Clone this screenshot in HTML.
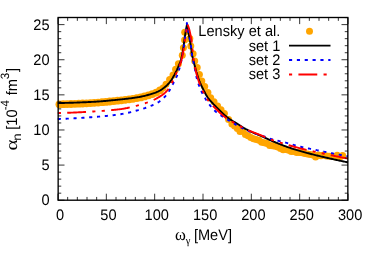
<!DOCTYPE html>
<html><head><meta charset="utf-8"><title>plot</title>
<style>
html,body{margin:0;padding:0;background:#fff;}
body{width:374px;height:262px;overflow:hidden;}
svg{display:block;}
text{font-family:"Liberation Sans",sans-serif;font-size:14.6px;fill:#000;text-rendering:geometricPrecision;}
.sym{font-family:"Liberation Serif",serif;}
</style></head><body>
<svg width="374" height="262" viewBox="0 0 374 262">
<rect width="374" height="262" fill="#fff"/>
<g fill="#ffa500"><circle cx="59.4" cy="104.3" r="3.9"/><circle cx="63.3" cy="104.2" r="3.9"/><circle cx="67.1" cy="104.1" r="3.9"/><circle cx="71.0" cy="104.0" r="3.9"/><circle cx="74.9" cy="103.8" r="3.9"/><circle cx="78.8" cy="103.7" r="3.9"/><circle cx="82.6" cy="103.5" r="3.9"/><circle cx="86.5" cy="103.3" r="3.9"/><circle cx="90.4" cy="103.1" r="3.9"/><circle cx="94.2" cy="102.8" r="3.9"/><circle cx="98.1" cy="102.6" r="3.9"/><circle cx="102.0" cy="102.2" r="3.9"/><circle cx="105.8" cy="101.9" r="3.9"/><circle cx="109.7" cy="101.5" r="3.9"/><circle cx="113.6" cy="101.1" r="3.9"/><circle cx="117.5" cy="100.7" r="3.9"/><circle cx="121.3" cy="100.3" r="3.9"/><circle cx="125.2" cy="99.8" r="3.9"/><circle cx="129.1" cy="99.3" r="3.9"/><circle cx="132.9" cy="98.8" r="3.9"/><circle cx="136.8" cy="98.1" r="3.9"/><circle cx="140.7" cy="97.4" r="3.9"/><circle cx="144.5" cy="96.4" r="3.9"/><circle cx="148.4" cy="95.3" r="3.9"/><circle cx="152.3" cy="94.1" r="3.9"/><circle cx="156.2" cy="92.6" r="3.9"/><circle cx="160.0" cy="90.4" r="3.9"/><circle cx="163.0" cy="88.0" r="3.5"/><circle cx="166.0" cy="84.2" r="3.5"/><circle cx="169.6" cy="79.6" r="3.5"/><circle cx="173.0" cy="75.0" r="3.5"/><circle cx="175.6" cy="69.3" r="3.5"/><circle cx="178.4" cy="63.7" r="3.5"/><circle cx="182.3" cy="55.3" r="3.5"/><circle cx="183.4" cy="47.8" r="3.5"/><circle cx="184.6" cy="40.0" r="3.5"/><circle cx="184.7" cy="32.3" r="3.5"/><circle cx="189.8" cy="38.4" r="3.5"/><circle cx="190.8" cy="45.9" r="3.5"/><circle cx="193.1" cy="53.8" r="3.5"/><circle cx="194.7" cy="60.9" r="3.5"/><circle cx="197.2" cy="67.5" r="3.5"/><circle cx="199.4" cy="74.5" r="3.5"/><circle cx="201.8" cy="81.0" r="3.5"/><circle cx="204.7" cy="86.4" r="3.5"/><circle cx="207.9" cy="92.4" r="3.5"/><circle cx="210.7" cy="97.7" r="3.5"/><circle cx="214.0" cy="101.8" r="3.5"/><circle cx="217.6" cy="106.0" r="3.5"/><circle cx="221.0" cy="109.7" r="3.5"/><circle cx="224.4" cy="113.6" r="3.5"/><circle cx="228.6" cy="119.6" r="3.5"/><circle cx="342.6" cy="155.6" r="3.5"/><circle cx="339.9" cy="157.1" r="3.5"/><circle cx="337.2" cy="155.2" r="3.5"/><circle cx="334.5" cy="156.7" r="3.5"/><circle cx="331.8" cy="156.2" r="3.5"/><circle cx="329.1" cy="156.2" r="3.5"/><circle cx="326.4" cy="156.1" r="3.5"/><circle cx="323.7" cy="155.0" r="3.5"/><circle cx="321.0" cy="155.7" r="3.5"/><circle cx="318.3" cy="155.1" r="3.5"/><circle cx="315.6" cy="157.0" r="3.5"/><circle cx="312.9" cy="155.1" r="3.5"/><circle cx="310.2" cy="154.5" r="3.5"/><circle cx="307.5" cy="154.1" r="3.5"/><circle cx="304.8" cy="153.4" r="3.5"/><circle cx="302.1" cy="152.7" r="3.5"/><circle cx="299.4" cy="152.5" r="3.5"/><circle cx="296.7" cy="152.4" r="3.5"/><circle cx="294.0" cy="151.4" r="3.5"/><circle cx="291.3" cy="151.4" r="3.5"/><circle cx="288.6" cy="150.2" r="3.5"/><circle cx="285.9" cy="149.6" r="3.5"/><circle cx="283.2" cy="149.7" r="3.5"/><circle cx="280.5" cy="148.4" r="3.5"/><circle cx="277.8" cy="147.1" r="3.5"/><circle cx="275.1" cy="146.3" r="3.5"/><circle cx="272.4" cy="145.8" r="3.5"/><circle cx="269.7" cy="145.6" r="3.5"/><circle cx="267.0" cy="143.6" r="3.5"/><circle cx="264.3" cy="142.7" r="3.5"/><circle cx="261.6" cy="142.3" r="3.5"/><circle cx="258.9" cy="140.3" r="3.5"/><circle cx="256.2" cy="139.5" r="3.5"/><circle cx="253.5" cy="138.8" r="3.5"/><circle cx="250.8" cy="137.4" r="3.5"/><circle cx="248.1" cy="135.8" r="3.5"/><circle cx="245.4" cy="134.6" r="3.5"/><circle cx="242.7" cy="131.2" r="3.5"/><circle cx="240.0" cy="131.4" r="3.5"/><circle cx="237.3" cy="128.5" r="3.5"/><circle cx="234.6" cy="126.0" r="3.5"/><circle cx="231.9" cy="124.1" r="3.5"/><circle cx="309.5" cy="31.2" r="3.5"/></g>
<g fill="none" stroke-width="1.9" stroke-linejoin="round">
<path d="M57.80 103.00 L58.61 103.00 L59.42 102.99 L60.23 102.98 L61.04 102.97 L61.85 102.96 L62.65 102.95 L63.46 102.94 L64.27 102.93 L65.08 102.91 L65.89 102.89 L66.70 102.87 L67.51 102.86 L68.32 102.84 L69.12 102.81 L69.93 102.79 L70.74 102.77 L71.55 102.74 L72.36 102.72 L73.17 102.69 L73.97 102.66 L74.78 102.64 L75.59 102.61 L76.40 102.58 L77.21 102.55 L78.01 102.52 L78.82 102.48 L79.63 102.45 L80.44 102.42 L81.24 102.39 L82.05 102.35 L82.86 102.32 L83.67 102.28 L84.47 102.25 L85.28 102.21 L86.09 102.18 L86.90 102.14 L87.70 102.10 L88.51 102.07 L89.32 102.03 L90.12 101.99 L90.93 101.96 L91.74 101.92 L92.54 101.87 L93.35 101.83 L94.16 101.78 L94.96 101.73 L95.77 101.68 L96.58 101.63 L97.38 101.57 L98.19 101.51 L99.00 101.45 L99.80 101.39 L100.61 101.33 L101.42 101.27 L102.22 101.20 L103.03 101.13 L103.83 101.07 L104.64 101.00 L105.45 100.93 L106.25 100.85 L107.06 100.78 L107.86 100.71 L108.67 100.63 L109.47 100.55 L110.28 100.48 L111.08 100.40 L111.89 100.32 L112.69 100.24 L113.50 100.16 L114.30 100.08 L115.11 100.00 L115.91 99.92 L116.72 99.84 L117.52 99.75 L118.33 99.67 L119.13 99.59 L119.93 99.51 L120.74 99.42 L121.54 99.34 L122.35 99.26 L123.15 99.17 L123.96 99.08 L124.76 99.00 L125.57 98.91 L126.37 98.81 L127.17 98.72 L127.98 98.63 L128.78 98.53 L129.59 98.43 L130.39 98.33 L131.19 98.22 L131.99 98.12 L132.80 98.01 L133.60 97.90 L134.40 97.78 L135.20 97.66 L135.99 97.54 L136.79 97.42 L137.59 97.29 L138.38 97.15 L139.17 97.02 L139.97 96.87 L140.76 96.71 L141.55 96.55 L142.34 96.38 L143.13 96.19 L143.92 96.01 L144.70 95.81 L145.49 95.62 L146.27 95.41 L147.06 95.21 L147.84 95.00 L148.62 94.78 L149.40 94.57 L150.18 94.35 L150.95 94.13 L151.73 93.90 L152.51 93.66 L153.28 93.41 L154.04 93.15 L154.80 92.88 L155.55 92.59 L156.30 92.28 L157.05 91.96 L157.79 91.63 L158.52 91.28 L159.24 90.91 L159.95 90.53 L160.64 90.13 L161.33 89.70 L162.01 89.26 L162.68 88.79 L163.34 88.31 L163.99 87.82 L164.62 87.32 L165.23 86.81 L165.84 86.28 L166.44 85.73 L167.03 85.17 L167.61 84.60 L168.17 84.01 L168.72 83.41 L169.26 82.80 L169.77 82.18 L170.27 81.56 L170.74 80.91 L171.20 80.25 L171.65 79.57 L172.08 78.88 L172.51 78.19 L172.92 77.49 L173.33 76.79 L173.73 76.09 L174.12 75.38 L174.51 74.67 L174.88 73.95 L175.25 73.23 L175.61 72.51 L175.96 71.78 L176.32 71.05 L176.66 70.32 L177.01 69.59 L177.34 68.86 L177.68 68.12 L178.00 67.38 L178.33 66.64 L178.64 65.90 L178.97 65.15 L179.29 64.41 L179.61 63.66 L179.92 62.91 L180.21 62.16 L180.47 61.40 L180.71 60.63 L180.94 59.86 L181.15 59.08 L181.35 58.30 L181.54 57.51 L181.72 56.72 L181.90 55.93 L182.07 55.13 L182.23 54.34 L182.39 53.55 L182.54 52.76 L182.69 51.96 L182.83 51.16 L182.97 50.37 L183.10 49.57 L183.23 48.77 L183.35 47.97 L183.47 47.17 L183.59 46.37 L183.70 45.57 L183.80 44.77 L183.90 43.97 L184.00 43.16 L184.10 42.36 L184.20 41.56 L184.30 40.76 L184.41 39.96 L184.52 39.15 L184.63 38.35 L184.75 37.55 L184.86 36.75 L184.98 35.95 L185.10 35.15 L185.22 34.36 L185.35 33.56 L185.48 32.76 L185.61 31.96 L185.74 31.16 L185.87 30.37 L186.01 29.57 L186.15 28.77 L186.30 27.98 L186.45 27.18 L186.59 26.39 L186.75 25.59 L186.90 24.80 L187.07 25.69 L187.24 26.57 L187.41 27.46 L187.58 28.35 L187.75 29.23 L187.93 30.12 L188.10 31.01 L188.28 31.89 L188.46 32.78 L188.64 33.66 L188.82 34.55 L188.99 35.43 L189.16 36.32 L189.33 37.21 L189.49 38.09 L189.65 38.98 L189.80 39.87 L189.96 40.76 L190.11 41.65 L190.27 42.54 L190.42 43.43 L190.57 44.32 L190.72 45.21 L190.86 46.10 L191.00 47.00 L191.13 47.89 L191.25 48.79 L191.36 49.68 L191.47 50.58 L191.58 51.48 L191.70 52.37 L191.82 53.27 L191.96 54.16 L192.11 55.05 L192.28 55.93 L192.48 56.81 L192.69 57.69 L192.91 58.57 L193.13 59.44 L193.36 60.32 L193.57 61.20 L193.79 62.07 L194.01 62.95 L194.23 63.83 L194.45 64.70 L194.67 65.58 L194.90 66.45 L195.13 67.33 L195.36 68.20 L195.60 69.07 L195.84 69.94 L196.09 70.81 L196.34 71.67 L196.59 72.54 L196.85 73.41 L197.11 74.28 L197.38 75.14 L197.65 76.00 L197.92 76.86 L198.21 77.72 L198.50 78.57 L198.80 79.42 L199.11 80.27 L199.43 81.11 L199.77 81.94 L200.11 82.78 L200.47 83.61 L200.84 84.43 L201.21 85.26 L201.60 86.08 L201.99 86.89 L202.39 87.71 L202.79 88.52 L203.20 89.32 L203.61 90.13 L204.02 90.93 L204.44 91.73 L204.86 92.54 L205.28 93.34 L205.72 94.14 L206.16 94.93 L206.62 95.71 L207.09 96.48 L207.57 97.24 L208.07 97.98 L208.60 98.70 L209.15 99.41 L209.73 100.09 L210.33 100.77 L210.95 101.44 L211.58 102.10 L212.20 102.76 L212.83 103.41 L213.44 104.07 L214.07 104.72 L214.69 105.37 L215.33 106.02 L215.96 106.66 L216.60 107.30 L217.24 107.94 L217.88 108.58 L218.51 109.22 L219.15 109.86 L219.78 110.50 L220.42 111.15 L221.06 111.78 L221.71 112.41 L222.36 113.04 L223.02 113.65 L223.69 114.26 L224.36 114.86 L225.04 115.45 L225.73 116.04 L226.42 116.62 L227.12 117.20 L227.83 117.75 L228.55 118.30 L229.28 118.83 L230.02 119.34 L230.78 119.83 L231.55 120.31 L232.32 120.78 L233.09 121.25 L233.86 121.73 L234.63 122.19 L235.41 122.65 L236.19 123.11 L236.96 123.57 L237.74 124.04 L238.51 124.51 L239.27 125.00 L240.03 125.49 L240.79 125.98 L241.54 126.48 L242.30 126.97 L243.06 127.46 L243.83 127.94 L244.60 128.40 L245.38 128.86 L246.17 129.29 L246.96 129.71 L247.77 130.12 L248.57 130.52 L249.39 130.91 L250.21 131.29 L251.03 131.67 L251.85 132.04 L252.68 132.41 L253.51 132.78 L254.33 133.15 L255.16 133.50 L256.00 133.85 L256.83 134.19 L257.67 134.53 L258.51 134.87 L259.34 135.22 L260.17 135.57 L260.99 135.94 L261.82 136.31 L262.64 136.68 L263.46 137.06 L264.28 137.44 L265.10 137.82 L265.92 138.20 L266.74 138.58 L267.56 138.95 L268.38 139.32 L269.21 139.69 L270.03 140.06 L270.86 140.42 L271.68 140.79 L272.51 141.15 L273.34 141.51 L274.17 141.86 L275.01 142.20 L275.84 142.54 L276.68 142.88 L277.52 143.22 L278.36 143.55 L279.20 143.89 L280.04 144.22 L280.88 144.55 L281.72 144.88 L282.57 145.20 L283.41 145.52 L284.26 145.84 L285.10 146.16 L285.95 146.47 L286.80 146.78 L287.65 147.08 L288.50 147.38 L289.35 147.68 L290.21 147.97 L291.06 148.26 L291.92 148.54 L292.78 148.82 L293.63 149.09 L294.49 149.36 L295.36 149.63 L296.22 149.89 L297.08 150.15 L297.95 150.41 L298.82 150.66 L299.68 150.91 L300.55 151.16 L301.42 151.40 L302.29 151.65 L303.17 151.89 L304.04 152.13 L304.91 152.36 L305.78 152.60 L306.66 152.83 L307.53 153.06 L308.40 153.29 L309.28 153.52 L310.15 153.75 L311.02 153.98 L311.90 154.21 L312.77 154.43 L313.65 154.65 L314.52 154.87 L315.40 155.09 L316.28 155.30 L317.15 155.52 L318.03 155.73 L318.91 155.94 L319.79 156.15 L320.67 156.35 L321.55 156.56 L322.43 156.77 L323.31 156.97 L324.19 157.17 L325.07 157.38 L325.95 157.58 L326.83 157.78 L327.71 157.98 L328.59 158.18 L329.47 158.38 L330.35 158.58 L331.23 158.78 L332.11 158.98 L332.99 159.18 L333.87 159.37 L334.75 159.57 L335.63 159.77 L336.52 159.96 L337.40 160.15 L338.28 160.35 L339.16 160.54 L340.05 160.73 L340.93 160.92 L341.81 161.11 L342.70 161.29 L343.58 161.48 L344.46 161.67 L345.35 161.85 L346.23 162.04 L347.12 162.22 L348.00 162.40" stroke="#000"/>
<path d="M289 45.6 H330.5" stroke="#000"/>
<path d="M57.80 119.00 L58.66 118.97 L59.53 118.95 L60.39 118.92 L61.26 118.89 L62.12 118.86 L62.99 118.83 L63.85 118.79 L64.72 118.76 L65.58 118.72 L66.45 118.68 L67.31 118.65 L68.17 118.61 L69.04 118.56 L69.90 118.52 L70.77 118.48 L71.63 118.44 L72.49 118.39 L73.36 118.34 L74.22 118.30 L75.08 118.25 L75.95 118.20 L76.81 118.15 L77.67 118.10 L78.54 118.05 L79.40 118.00 L80.26 117.94 L81.12 117.89 L81.99 117.83 L82.85 117.78 L83.71 117.72 L84.57 117.67 L85.44 117.61 L86.30 117.55 L87.16 117.49 L88.02 117.44 L88.89 117.38 L89.75 117.32 L90.61 117.26 L91.47 117.20 L92.33 117.13 L93.20 117.07 L94.06 117.01 L94.92 116.94 L95.79 116.88 L96.65 116.81 L97.51 116.74 L98.38 116.67 L99.24 116.60 L100.10 116.52 L100.97 116.45 L101.83 116.37 L102.69 116.30 L103.56 116.22 L104.42 116.13 L105.28 116.05 L106.14 115.97 L107.01 115.88 L107.87 115.79 L108.73 115.70 L109.59 115.61 L110.45 115.51 L111.31 115.42 L112.17 115.32 L113.02 115.22 L113.88 115.11 L114.74 115.01 L115.59 114.90 L116.45 114.79 L117.30 114.67 L118.16 114.56 L119.01 114.44 L119.86 114.32 L120.71 114.19 L121.56 114.06 L122.41 113.92 L123.26 113.76 L124.11 113.60 L124.96 113.44 L125.81 113.26 L126.65 113.08 L127.50 112.89 L128.34 112.70 L129.19 112.50 L130.03 112.30 L130.87 112.09 L131.72 111.88 L132.56 111.66 L133.40 111.44 L134.23 111.22 L135.07 111.00 L135.91 110.77 L136.74 110.54 L137.57 110.31 L138.40 110.08 L139.23 109.85 L140.06 109.61 L140.89 109.37 L141.72 109.11 L142.55 108.85 L143.37 108.59 L144.19 108.31 L145.01 108.04 L145.83 107.75 L146.65 107.46 L147.46 107.17 L148.27 106.86 L149.08 106.56 L149.88 106.25 L150.69 105.93 L151.50 105.61 L152.31 105.28 L153.12 104.94 L153.92 104.59 L154.71 104.23 L155.49 103.85 L156.25 103.46 L156.99 103.04 L157.71 102.61 L158.42 102.15 L159.13 101.66 L159.83 101.15 L160.53 100.63 L161.21 100.08 L161.89 99.51 L162.55 98.93 L163.21 98.33 L163.84 97.72 L164.46 97.10 L165.07 96.47 L165.65 95.84 L166.22 95.19 L166.76 94.54 L167.28 93.88 L167.78 93.18 L168.25 92.45 L168.71 91.71 L169.16 90.95 L169.60 90.20 L170.03 89.45 L170.46 88.70 L170.88 87.95 L171.29 87.19 L171.70 86.42 L172.10 85.66 L172.50 84.89 L172.89 84.12 L173.28 83.34 L173.67 82.57 L174.05 81.80 L174.44 81.02 L174.83 80.25 L175.22 79.48 L175.61 78.70 L176.00 77.93 L176.37 77.15 L176.73 76.36 L177.07 75.57 L177.39 74.77 L177.69 73.96 L177.98 73.15 L178.26 72.33 L178.53 71.50 L178.79 70.68 L179.04 69.85 L179.28 69.02 L179.53 68.19 L179.76 67.36 L179.99 66.52 L180.22 65.69 L180.44 64.85 L180.65 64.01 L180.85 63.17 L181.04 62.33 L181.22 61.48 L181.39 60.64 L181.55 59.79 L181.71 58.94 L181.86 58.09 L182.02 57.23 L182.17 56.38 L182.32 55.53 L182.47 54.68 L182.62 53.83 L182.77 52.98 L182.92 52.12 L183.06 51.27 L183.20 50.42 L183.34 49.56 L183.48 48.71 L183.62 47.86 L183.75 47.00 L183.88 46.15 L184.00 45.29 L184.12 44.44 L184.24 43.58 L184.36 42.72 L184.47 41.87 L184.58 41.01 L184.69 40.15 L184.80 39.29 L184.91 38.44 L185.02 37.58 L185.13 36.72 L185.23 35.86 L185.34 35.00 L185.45 34.15 L185.56 33.29 L185.67 32.43 L185.79 31.57 L185.90 30.72 L186.01 29.86 L186.12 29.00 L186.23 28.14 L186.34 27.29 L186.45 26.43 L186.57 25.57 L186.68 24.71 L186.79 23.86 L186.90 23.00 L187.02 23.90 L187.15 24.81 L187.29 25.71 L187.43 26.61 L187.58 27.51 L187.72 28.41 L187.88 29.30 L188.04 30.20 L188.20 31.10 L188.38 31.99 L188.56 32.88 L188.74 33.77 L188.93 34.67 L189.11 35.56 L189.29 36.45 L189.48 37.35 L189.66 38.24 L189.85 39.13 L190.02 40.02 L190.19 40.92 L190.34 41.82 L190.49 42.72 L190.63 43.62 L190.77 44.52 L190.89 45.42 L191.02 46.32 L191.13 47.23 L191.23 48.13 L191.31 49.04 L191.39 49.95 L191.47 50.86 L191.55 51.77 L191.63 52.68 L191.72 53.58 L191.83 54.49 L191.96 55.38 L192.12 56.28 L192.30 57.17 L192.51 58.06 L192.72 58.95 L192.93 59.84 L193.14 60.72 L193.33 61.61 L193.53 62.51 L193.72 63.40 L193.92 64.29 L194.11 65.18 L194.30 66.07 L194.49 66.96 L194.67 67.85 L194.84 68.75 L195.01 69.64 L195.17 70.54 L195.32 71.44 L195.48 72.34 L195.65 73.23 L195.82 74.13 L196.00 75.02 L196.20 75.91 L196.41 76.79 L196.62 77.68 L196.84 78.57 L197.07 79.45 L197.31 80.33 L197.56 81.20 L197.82 82.08 L198.10 82.94 L198.39 83.80 L198.70 84.66 L199.02 85.52 L199.35 86.37 L199.68 87.22 L200.02 88.06 L200.36 88.91 L200.72 89.75 L201.09 90.58 L201.46 91.41 L201.85 92.23 L202.26 93.05 L202.67 93.86 L203.10 94.67 L203.53 95.47 L203.98 96.27 L204.43 97.06 L204.90 97.84 L205.37 98.62 L205.85 99.39 L206.34 100.16 L206.84 100.92 L207.35 101.68 L207.88 102.43 L208.41 103.17 L208.95 103.90 L209.51 104.62 L210.07 105.34 L210.63 106.05 L211.21 106.76 L211.79 107.47 L212.39 108.17 L213.00 108.86 L213.61 109.53 L214.25 110.18 L214.89 110.82 L215.55 111.43 L216.23 112.02 L216.94 112.59 L217.66 113.15 L218.39 113.70 L219.14 114.23 L219.89 114.76 L220.64 115.28 L221.40 115.79 L222.15 116.30 L222.91 116.80 L223.68 117.29 L224.45 117.77 L225.23 118.25 L226.01 118.72 L226.80 119.18 L227.58 119.65 L228.36 120.12 L229.14 120.59 L229.92 121.06 L230.70 121.54 L231.48 122.02 L232.25 122.50 L233.03 122.98 L233.81 123.45 L234.59 123.93 L235.37 124.40 L236.16 124.86 L236.94 125.32 L237.73 125.77 L238.53 126.21 L239.33 126.65 L240.13 127.07 L240.94 127.48 L241.75 127.89 L242.57 128.29 L243.39 128.69 L244.22 129.08 L245.05 129.47 L245.88 129.84 L246.71 130.22 L247.55 130.58 L248.39 130.94 L249.23 131.29 L250.07 131.63 L250.91 131.96 L251.76 132.29 L252.61 132.61 L253.47 132.92 L254.33 133.23 L255.19 133.53 L256.05 133.83 L256.91 134.12 L257.78 134.41 L258.64 134.70 L259.51 134.99 L260.37 135.28 L261.24 135.57 L262.10 135.86 L262.97 136.15 L263.83 136.45 L264.69 136.74 L265.55 137.04 L266.41 137.34 L267.27 137.64 L268.14 137.94 L269.00 138.23 L269.86 138.52 L270.73 138.80 L271.60 139.07 L272.47 139.33 L273.34 139.58 L274.22 139.83 L275.10 140.06 L275.98 140.29 L276.87 140.51 L277.75 140.73 L278.64 140.94 L279.52 141.16 L280.41 141.37 L281.30 141.58 L282.18 141.79 L283.07 142.01 L283.96 142.23 L284.84 142.45 L285.72 142.68 L286.60 142.92 L287.48 143.16 L288.36 143.41 L289.23 143.65 L290.11 143.90 L290.99 144.15 L291.86 144.40 L292.74 144.66 L293.62 144.91 L294.49 145.15 L295.37 145.40 L296.25 145.64 L297.13 145.88 L298.01 146.11 L298.89 146.33 L299.78 146.55 L300.66 146.76 L301.55 146.96 L302.44 147.16 L303.33 147.35 L304.22 147.54 L305.11 147.73 L306.01 147.91 L306.90 148.10 L307.79 148.28 L308.68 148.46 L309.58 148.64 L310.47 148.83 L311.36 149.02 L312.25 149.21 L313.14 149.40 L314.04 149.58 L314.93 149.77 L315.82 149.96 L316.71 150.15 L317.60 150.34 L318.49 150.53 L319.38 150.72 L320.28 150.90 L321.17 151.09 L322.06 151.28 L322.95 151.46 L323.84 151.65 L324.74 151.83 L325.63 152.02 L326.52 152.20 L327.41 152.38 L328.31 152.56 L329.20 152.74 L330.09 152.92 L330.99 153.10 L331.88 153.27 L332.78 153.45 L333.67 153.62 L334.56 153.79 L335.46 153.97 L336.35 154.14 L337.25 154.31 L338.14 154.48 L339.04 154.65 L339.93 154.82 L340.83 154.99 L341.73 155.15 L342.62 155.32 L343.52 155.48 L344.41 155.65 L345.31 155.81 L346.21 155.98 L347.10 156.14 L348.00 156.30" stroke="#0000ff" stroke-dasharray="3.14 4.71"/>
<path d="M289 60 H330.5" stroke="#0000ff" stroke-dasharray="3.14 4.71"/>
<path d="M57.80 113.10 L58.64 113.08 L59.48 113.06 L60.32 113.04 L61.16 113.01 L62.00 112.99 L62.84 112.96 L63.68 112.94 L64.52 112.91 L65.36 112.88 L66.20 112.85 L67.04 112.82 L67.88 112.79 L68.72 112.76 L69.56 112.72 L70.40 112.69 L71.24 112.65 L72.08 112.62 L72.92 112.58 L73.76 112.54 L74.60 112.51 L75.44 112.47 L76.28 112.43 L77.12 112.39 L77.96 112.35 L78.80 112.31 L79.64 112.26 L80.48 112.22 L81.32 112.18 L82.16 112.13 L83.00 112.09 L83.83 112.04 L84.67 112.00 L85.51 111.95 L86.35 111.91 L87.19 111.86 L88.03 111.81 L88.87 111.76 L89.71 111.72 L90.54 111.67 L91.38 111.62 L92.22 111.57 L93.06 111.52 L93.90 111.47 L94.74 111.42 L95.58 111.37 L96.42 111.31 L97.26 111.26 L98.10 111.20 L98.94 111.15 L99.78 111.09 L100.62 111.03 L101.46 110.97 L102.30 110.91 L103.14 110.84 L103.98 110.78 L104.82 110.71 L105.66 110.65 L106.50 110.58 L107.34 110.51 L108.18 110.44 L109.02 110.36 L109.85 110.29 L110.69 110.21 L111.53 110.13 L112.36 110.05 L113.20 109.96 L114.03 109.88 L114.87 109.79 L115.70 109.70 L116.53 109.61 L117.37 109.51 L118.20 109.42 L119.03 109.32 L119.86 109.22 L120.69 109.11 L121.52 109.00 L122.34 108.87 L123.17 108.74 L124.00 108.60 L124.83 108.45 L125.65 108.30 L126.48 108.13 L127.31 107.97 L128.13 107.79 L128.96 107.61 L129.78 107.43 L130.60 107.24 L131.42 107.05 L132.24 106.85 L133.06 106.65 L133.88 106.45 L134.70 106.24 L135.51 106.03 L136.33 105.82 L137.14 105.61 L137.95 105.40 L138.76 105.18 L139.57 104.97 L140.38 104.74 L141.19 104.51 L141.99 104.27 L142.80 104.02 L143.60 103.77 L144.41 103.51 L145.21 103.25 L146.00 102.97 L146.80 102.70 L147.59 102.41 L148.38 102.12 L149.16 101.82 L149.94 101.52 L150.72 101.21 L151.50 100.89 L152.27 100.56 L153.05 100.22 L153.82 99.86 L154.58 99.50 L155.33 99.12 L156.08 98.73 L156.81 98.33 L157.53 97.92 L158.26 97.50 L158.98 97.07 L159.71 96.62 L160.44 96.16 L161.16 95.69 L161.87 95.21 L162.57 94.71 L163.26 94.20 L163.93 93.68 L164.57 93.14 L165.19 92.60 L165.79 92.03 L166.35 91.45 L166.88 90.85 L167.40 90.22 L167.90 89.56 L168.38 88.88 L168.85 88.17 L169.30 87.45 L169.74 86.71 L170.17 85.97 L170.59 85.22 L171.01 84.47 L171.41 83.72 L171.81 82.98 L172.20 82.24 L172.58 81.50 L172.95 80.75 L173.31 79.99 L173.66 79.23 L174.01 78.46 L174.35 77.69 L174.69 76.92 L175.02 76.14 L175.36 75.37 L175.69 74.59 L176.02 73.82 L176.36 73.05 L176.70 72.28 L177.04 71.51 L177.38 70.74 L177.72 69.98 L178.06 69.21 L178.40 68.43 L178.73 67.66 L179.05 66.88 L179.36 66.11 L179.67 65.32 L179.97 64.54 L180.27 63.75 L180.56 62.96 L180.84 62.17 L181.09 61.37 L181.32 60.56 L181.54 59.75 L181.74 58.94 L181.94 58.12 L182.12 57.30 L182.30 56.48 L182.47 55.65 L182.64 54.83 L182.80 54.00 L182.96 53.18 L183.11 52.35 L183.26 51.52 L183.40 50.70 L183.54 49.87 L183.68 49.04 L183.81 48.21 L183.94 47.38 L184.07 46.55 L184.19 45.71 L184.31 44.88 L184.43 44.05 L184.55 43.22 L184.66 42.39 L184.78 41.55 L184.90 40.72 L185.02 39.89 L185.14 39.06 L185.26 38.23 L185.39 37.39 L185.51 36.56 L185.64 35.73 L185.76 34.90 L185.89 34.07 L186.01 33.24 L186.14 32.41 L186.26 31.58 L186.39 30.75 L186.52 29.92 L186.64 29.09 L186.77 28.25 L186.89 27.42 L187.02 26.59 L187.15 25.76 L187.27 24.93 L187.40 24.10" stroke="#ff0000" stroke-dasharray="18.84 6.28 3.14 6.28 3.14 6.28" stroke-dashoffset="34.54"/>
<path d="M187.40 24.10 L187.73 24.95 L188.06 25.79 L188.36 26.65 L188.65 27.50 L188.93 28.37 L189.19 29.23 L189.43 30.10 L189.65 30.97 L189.85 31.85 L190.05 32.74 L190.23 33.63 L190.41 34.51 L190.58 35.40 L190.76 36.29 L190.93 37.18 L191.10 38.07 L191.27 38.96 L191.42 39.85 L191.56 40.74 L191.69 41.64 L191.81 42.54 L191.92 43.43 L192.02 44.33 L192.12 45.23 L192.21 46.13 L192.30 47.03 L192.39 47.93 L192.47 48.84 L192.54 49.74 L192.61 50.64 L192.68 51.54 L192.75 52.44 L192.83 53.35 L192.92 54.25 L193.02 55.14 L193.13 56.04 L193.25 56.94 L193.38 57.83 L193.52 58.73 L193.67 59.62 L193.82 60.51 L193.97 61.41 L194.12 62.30 L194.27 63.19 L194.43 64.08 L194.59 64.97 L194.75 65.87 L194.92 66.75 L195.09 67.64 L195.27 68.53 L195.46 69.41 L195.65 70.30 L195.86 71.18 L196.07 72.06 L196.28 72.93 L196.51 73.81 L196.74 74.69 L196.98 75.56 L197.23 76.43 L197.49 77.30 L197.75 78.17 L198.02 79.03 L198.30 79.89 L198.58 80.75 L198.88 81.60 L199.18 82.45 L199.50 83.30 L199.82 84.15 L200.16 84.99 L200.50 85.83 L200.85 86.66 L201.21 87.50 L201.57 88.33 L201.94 89.16 L202.32 89.98 L202.70 90.80 L203.08 91.61 L203.47 92.44 L203.87 93.26 L204.27 94.07 L204.68 94.89 L205.11 95.69 L205.54 96.49 L205.99 97.28 L206.45 98.05 L206.93 98.80 L207.43 99.54 L207.97 100.26 L208.53 100.96 L209.12 101.65 L209.72 102.34 L210.34 103.01 L210.96 103.68 L211.57 104.34 L212.19 105.01 L212.80 105.67 L213.43 106.32 L214.06 106.97 L214.70 107.61 L215.34 108.25 L215.98 108.89 L216.63 109.53 L217.27 110.16 L217.92 110.80 L218.56 111.43 L219.21 112.07 L219.86 112.69 L220.52 113.31 L221.19 113.93 L221.86 114.53 L222.54 115.12 L223.23 115.71 L223.92 116.29 L224.62 116.87 L225.33 117.44 L226.05 118.00 L226.77 118.55 L227.51 119.07 L228.25 119.57 L229.02 120.04 L229.80 120.49 L230.60 120.92 L231.40 121.34 L232.20 121.77 L233.00 122.20 L233.79 122.64 L234.58 123.08 L235.37 123.53 L236.16 123.97 L236.95 124.41 L237.74 124.85 L238.53 125.30 L239.31 125.75 L240.10 126.20 L240.88 126.66 L241.67 127.11 L242.45 127.56 L243.25 128.00 L244.04 128.43 L244.84 128.85 L245.65 129.24 L246.47 129.61 L247.31 129.96 L248.15 130.29 L249.00 130.61 L249.84 130.94 L250.68 131.27 L251.52 131.61 L252.36 131.95 L253.20 132.29 L254.04 132.62 L254.89 132.94 L255.73 133.26 L256.58 133.58 L257.43 133.90 L258.28 134.22 L259.12 134.55 L259.96 134.88 L260.79 135.23 L261.62 135.59 L262.45 135.95 L263.28 136.32 L264.11 136.69 L264.94 137.05 L265.77 137.40 L266.60 137.75 L267.44 138.09 L268.28 138.43 L269.12 138.77 L269.96 139.10 L270.81 139.43 L271.65 139.75 L272.50 140.07 L273.35 140.38 L274.20 140.68 L275.06 140.97 L275.91 141.26 L276.77 141.54 L277.63 141.82 L278.50 142.10 L279.36 142.37 L280.22 142.64 L281.09 142.90 L281.96 143.17 L282.82 143.43 L283.69 143.69 L284.56 143.95 L285.42 144.21 L286.29 144.46 L287.16 144.72 L288.02 144.98 L288.89 145.23 L289.76 145.49 L290.63 145.74 L291.50 145.99 L292.37 146.24 L293.24 146.49 L294.11 146.73 L294.99 146.97 L295.86 147.21 L296.73 147.45 L297.61 147.68 L298.48 147.91 L299.36 148.14 L300.23 148.36 L301.11 148.58 L301.99 148.79 L302.87 149.00 L303.75 149.21 L304.63 149.41 L305.51 149.61 L306.40 149.81 L307.28 150.01 L308.16 150.21 L309.04 150.41 L309.93 150.60 L310.81 150.80 L311.69 151.00 L312.58 151.20 L313.46 151.40 L314.34 151.60 L315.22 151.79 L316.11 151.99 L316.99 152.19 L317.87 152.38 L318.76 152.58 L319.64 152.77 L320.52 152.97 L321.41 153.16 L322.29 153.35 L323.18 153.55 L324.06 153.74 L324.95 153.93 L325.83 154.12 L326.72 154.31 L327.60 154.49 L328.49 154.68 L329.37 154.87 L330.26 155.05 L331.14 155.24 L332.03 155.42 L332.91 155.60 L333.80 155.79 L334.69 155.97 L335.57 156.15 L336.46 156.33 L337.35 156.51 L338.23 156.69 L339.12 156.86 L340.01 157.04 L340.89 157.22 L341.78 157.39 L342.67 157.57 L343.56 157.74 L344.45 157.91 L345.33 158.09 L346.22 158.26 L347.11 158.43 L348.00 158.60" stroke="#ff0000" stroke-dasharray="18.54 6.18 3.09 6.18 3.09 6.18" stroke-dashoffset="42.76"/>
<path d="M289 74.5 H330.5" stroke="#ff0000" stroke-dasharray="18.84 6.28 3.14 6.28 3.14 6.28" stroke-dashoffset="34.54"/>
</g>
<path d="M58.00 200.2 v-6.5 M58.00 17.6 v6.5 M67.67 200.2 v-3.25 M67.67 17.6 v3.25 M77.33 200.2 v-3.25 M77.33 17.6 v3.25 M87.00 200.2 v-3.25 M87.00 17.6 v3.25 M96.67 200.2 v-3.25 M96.67 17.6 v3.25 M106.33 200.2 v-6.5 M106.33 17.6 v6.5 M116.00 200.2 v-3.25 M116.00 17.6 v3.25 M125.67 200.2 v-3.25 M125.67 17.6 v3.25 M135.33 200.2 v-3.25 M135.33 17.6 v3.25 M145.00 200.2 v-3.25 M145.00 17.6 v3.25 M154.67 200.2 v-6.5 M154.67 17.6 v6.5 M164.33 200.2 v-3.25 M164.33 17.6 v3.25 M174.00 200.2 v-3.25 M174.00 17.6 v3.25 M183.67 200.2 v-3.25 M183.67 17.6 v3.25 M193.33 200.2 v-3.25 M193.33 17.6 v3.25 M203.00 200.2 v-6.5 M203.00 17.6 v6.5 M212.67 200.2 v-3.25 M212.67 17.6 v3.25 M222.33 200.2 v-3.25 M222.33 17.6 v3.25 M232.00 200.2 v-3.25 M232.00 17.6 v3.25 M241.67 200.2 v-3.25 M241.67 17.6 v3.25 M251.33 200.2 v-6.5 M251.33 17.6 v6.5 M261.00 200.2 v-3.25 M261.00 17.6 v3.25 M270.67 200.2 v-3.25 M270.67 17.6 v3.25 M280.33 200.2 v-3.25 M280.33 17.6 v3.25 M290.00 200.2 v-3.25 M290.00 17.6 v3.25 M299.67 200.2 v-6.5 M299.67 17.6 v6.5 M309.33 200.2 v-3.25 M309.33 17.6 v3.25 M319.00 200.2 v-3.25 M319.00 17.6 v3.25 M328.67 200.2 v-3.25 M328.67 17.6 v3.25 M338.33 200.2 v-3.25 M338.33 17.6 v3.25 M348.00 200.2 v-6.5 M348.00 17.6 v6.5 M58.0 200.20 h6.5 M348.0 200.20 h-6.5 M58.0 193.18 h3.25 M348.0 193.18 h-3.25 M58.0 186.15 h3.25 M348.0 186.15 h-3.25 M58.0 179.13 h3.25 M348.0 179.13 h-3.25 M58.0 172.11 h3.25 M348.0 172.11 h-3.25 M58.0 165.08 h6.5 M348.0 165.08 h-6.5 M58.0 158.06 h3.25 M348.0 158.06 h-3.25 M58.0 151.04 h3.25 M348.0 151.04 h-3.25 M58.0 144.02 h3.25 M348.0 144.02 h-3.25 M58.0 136.99 h3.25 M348.0 136.99 h-3.25 M58.0 129.97 h6.5 M348.0 129.97 h-6.5 M58.0 122.95 h3.25 M348.0 122.95 h-3.25 M58.0 115.92 h3.25 M348.0 115.92 h-3.25 M58.0 108.90 h3.25 M348.0 108.90 h-3.25 M58.0 101.88 h3.25 M348.0 101.88 h-3.25 M58.0 94.85 h6.5 M348.0 94.85 h-6.5 M58.0 87.83 h3.25 M348.0 87.83 h-3.25 M58.0 80.81 h3.25 M348.0 80.81 h-3.25 M58.0 73.78 h3.25 M348.0 73.78 h-3.25 M58.0 66.76 h3.25 M348.0 66.76 h-3.25 M58.0 59.74 h6.5 M348.0 59.74 h-6.5 M58.0 52.72 h3.25 M348.0 52.72 h-3.25 M58.0 45.69 h3.25 M348.0 45.69 h-3.25 M58.0 38.67 h3.25 M348.0 38.67 h-3.25 M58.0 31.65 h3.25 M348.0 31.65 h-3.25 M58.0 24.62 h6.5 M348.0 24.62 h-6.5 M58.0 17.60 h3.25 M348.0 17.60 h-3.25" stroke="#000" stroke-width="0.8" fill="none"/>
<rect x="58.15" y="17.5" width="289.7" height="182.7" fill="none" stroke="#000" stroke-width="1.35"/>
<g opacity="0.999">
<text transform="translate(60.10 220.10) scale(1 1.045)" text-anchor="middle">0</text><text transform="translate(108.43 220.10) scale(1 1.045)" text-anchor="middle">50</text><text transform="translate(156.77 220.10) scale(1 1.045)" text-anchor="middle">100</text><text transform="translate(205.10 220.10) scale(1 1.045)" text-anchor="middle">150</text><text transform="translate(253.43 220.10) scale(1 1.045)" text-anchor="middle">200</text><text transform="translate(301.77 220.10) scale(1 1.045)" text-anchor="middle">250</text><text transform="translate(350.10 220.10) scale(1 1.045)" text-anchor="middle">300</text>
<text transform="translate(49.60 205.35) scale(1 1.045)" text-anchor="end">0</text><text transform="translate(49.60 170.23) scale(1 1.045)" text-anchor="end">5</text><text transform="translate(49.60 135.12) scale(1 1.045)" text-anchor="end">10</text><text transform="translate(49.60 100.00) scale(1 1.045)" text-anchor="end">15</text><text transform="translate(49.60 64.89) scale(1 1.045)" text-anchor="end">20</text><text transform="translate(49.60 29.77) scale(1 1.045)" text-anchor="end">25</text>
<text transform="translate(280.30 36.10) scale(1 1.045)" text-anchor="end">Lensky et al.</text>
<text transform="translate(280.30 50.55) scale(1 1.045)" text-anchor="end">set 1</text>
<text transform="translate(280.30 65.00) scale(1 1.045)" text-anchor="end">set 2</text>
<text transform="translate(280.30 79.45) scale(1 1.045)" text-anchor="end">set 3</text>
<text transform="translate(174.9 240.1) scale(1 1.045)"><tspan class="sym" style="font-size:16.5px">ω</tspan><tspan class="sym" dy="3.4" style="font-size:10.5px">γ</tspan></text>
<text transform="translate(193.90 240.10) scale(1 1.045)" text-anchor="start">[MeV]</text>
<g transform="translate(16.8 149.1) rotate(-90)">
<text class="sym" transform="translate(-1.3 0) scale(1.25 1)" style="font-size:16.8px">α</text>
<text transform="translate(8.3 4.0) scale(1.15 1.045)" style="font-size:11.5px">n</text>
<text transform="translate(19.4 0) scale(1 1.045)">[10</text>
<text transform="translate(38.8 -8.05) scale(1 1.045)" style="font-size:11.5px">-4</text>
<text transform="translate(53.8 0) scale(1 1.045)">fm</text>
<text transform="translate(69.8 -8.2) scale(1 1.045)" style="font-size:11.5px">3</text>
<text transform="translate(77.1 0) scale(1 1.045)">]</text>
</g>
</g>
</svg>
</body></html>
